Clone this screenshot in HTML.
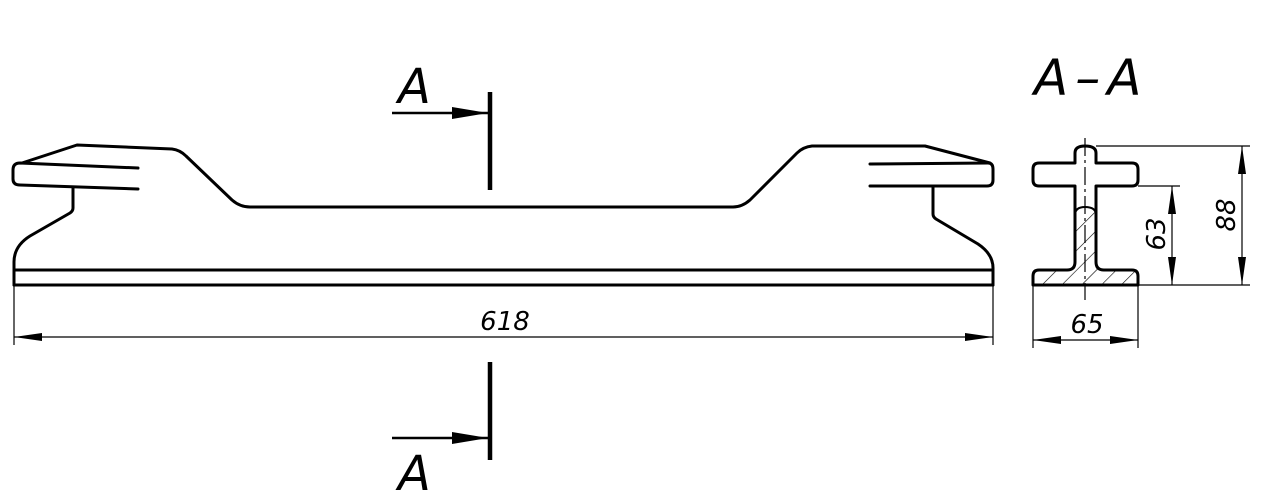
<!DOCTYPE html>
<html><head><style>
html,body{margin:0;padding:0;background:#fff;}
svg{display:block;}
text{font-family:"DejaVu Sans","Liberation Sans",sans-serif;font-style:italic;fill:#000;}
</style></head><body>
<svg width="1267" height="503" viewBox="0 0 1267 503" xmlns="http://www.w3.org/2000/svg">
<defs>
<marker id="ar" viewBox="0 0 28 8" refX="28" refY="4" markerWidth="28" markerHeight="8" markerUnits="userSpaceOnUse" orient="auto-start-reverse">
<path d="M0,0 L28,4 L0,8 Z" fill="#000"/></marker>
<marker id="ab" viewBox="0 0 36 12" refX="36" refY="6" markerWidth="36" markerHeight="12" markerUnits="userSpaceOnUse" orient="auto">
<path d="M0,0 L36,6 L0,12 Z" fill="#000"/></marker>
<pattern id="h" width="14" height="14" patternUnits="userSpaceOnUse" patternTransform="rotate(45)">
<line x1="0" y1="0" x2="0" y2="14" stroke="#000" stroke-width="1.2"/></pattern>
</defs>
<g fill="none" stroke="#000" stroke-width="3" stroke-linejoin="round" stroke-linecap="round">
<path d="M22,163 L77,145 L172,149 Q180,150 186,156 L232,200 Q240,207 250,207 L733,207 Q742,207 750,200 L797,153 Q803,147 812,146 L925,146 L990,163"/>
<path d="M138,168 L20,163 Q13,163 13,170 L13,179 Q13,185 20,185 L138,189"/>
<path d="M73,187 L73,208 Q73,211 70,213 L30,236 Q14,246 14,262 L14,285"/>
<path d="M870,164 L988,163 Q993,163 993,169 L993,180 Q993,186 987,186 L870,186"/>
<path d="M933,187 L933,214 Q933,217 936,219 L978,244 Q993,254 993,268 L993,285"/>
<line x1="14" y1="270" x2="993" y2="270"/>
<line x1="14" y1="285" x2="993" y2="285"/>
</g>
<g stroke="#000" fill="none">
<line x1="490" y1="92" x2="490" y2="190" stroke-width="4.5"/>
<line x1="490" y1="362" x2="490" y2="460" stroke-width="4.5"/>
<line x1="392" y1="113" x2="488" y2="113" stroke-width="2.5" marker-end="url(#ab)"/>
<line x1="392" y1="438" x2="488" y2="438" stroke-width="2.5" marker-end="url(#ab)"/>
</g>
<text x="398" y="103" font-size="48">A</text>
<text x="398" y="490" font-size="48">A</text>
<g stroke="#000" stroke-width="1.2" fill="none">
<line x1="14" y1="285" x2="14" y2="345"/>
<line x1="993" y1="285" x2="993" y2="345"/>
<line x1="14" y1="337" x2="993" y2="337" marker-start="url(#ar)" marker-end="url(#ar)"/>
</g>
<text x="505" y="330" font-size="26" text-anchor="middle">618</text>
<text x="1034" y="95" font-size="50" letter-spacing="7">A–A</text>
<path d="M1075,207 L1096,207 L1096,262 Q1096,270 1104,270 L1138,270 L1138,285 L1033,285 L1033,270 L1067,270 Q1075,270 1075,262 Z" fill="url(#h)" stroke="none"/>
<g fill="none" stroke="#000" stroke-width="3" stroke-linejoin="round">
<path d="M1075,163 L1075,153 Q1075,146 1085,146 Q1096,146 1096,153 L1096,163 L1132,163 Q1138,163 1138,169 L1138,180 Q1138,186 1132,186 L1096,186 L1096,262 Q1096,270 1104,270 L1132,270 Q1138,270 1138,276 L1138,285 L1033,285 L1033,276 Q1033,270 1039,270 L1067,270 Q1075,270 1075,262 L1075,186 L1039,186 Q1033,186 1033,180 L1033,169 Q1033,163 1039,163 Z"/>
<path d="M1075,215 Q1075,207 1085,207 Q1096,207 1096,215" stroke-width="2"/>
</g>
<g stroke="#000" stroke-width="1.2" fill="none">
<line x1="1085" y1="138" x2="1085" y2="300" stroke-dasharray="18,4,3,4"/>
<line x1="1096" y1="146" x2="1250" y2="146"/>
<line x1="1138" y1="285" x2="1250" y2="285"/>
<line x1="1138" y1="186" x2="1180" y2="186"/>
<line x1="1242" y1="146" x2="1242" y2="285" marker-start="url(#ar)" marker-end="url(#ar)"/>
<line x1="1172" y1="186" x2="1172" y2="285" marker-start="url(#ar)" marker-end="url(#ar)"/>
<line x1="1033" y1="285" x2="1033" y2="348"/>
<line x1="1138" y1="285" x2="1138" y2="348"/>
<line x1="1033" y1="340" x2="1138" y2="340" marker-start="url(#ar)" marker-end="url(#ar)"/>
</g>
<text x="1087" y="333" font-size="26" text-anchor="middle">65</text>
<text transform="translate(1165,234) rotate(-90)" font-size="26" text-anchor="middle">63</text>
<text transform="translate(1235,215) rotate(-90)" font-size="26" text-anchor="middle">88</text>
</svg>
</body></html>
